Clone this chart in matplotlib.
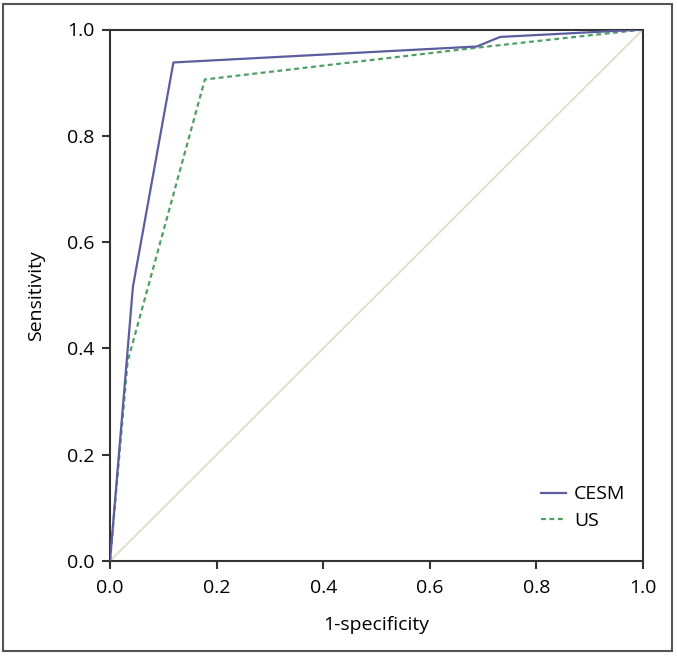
import matplotlib.pyplot as plt
from matplotlib.patches import Rectangle

plt.rcParams['font.family'] = ['Open Sans', 'DejaVu Sans']

# ROC points
cesm_fpr = [0.0, 0.043, 0.119, 0.688, 0.732, 1.0]
cesm_tpr = [0.0, 0.516, 0.938, 0.968, 0.986, 1.0]
us_fpr = [0.0, 0.033, 0.178, 0.69, 1.0]
us_tpr = [0.0, 0.375, 0.906, 0.966, 1.0]
ticks = [0.0, 0.2, 0.4, 0.6, 0.8, 1.0]

fig = plt.figure(figsize=(6.77, 6.56), dpi=100)
ax = fig.add_axes([110 / 677, 1 - 561 / 656, 533 / 677, 531.5 / 656])

ax.plot([0, 1], [0, 1], color='#dcdcc4', lw=1.2, zorder=1)
ax.plot(us_fpr, us_tpr, color='#4f9f63', lw=1.6, ls=(0, (2.2, 1.6)), label='US', zorder=2)
ax.plot(cesm_fpr, cesm_tpr, color='#5a5e9e', lw=1.6, label='CESM', zorder=3)

ax.set_xlim(0, 1)
ax.set_ylim(0, 1)
ax.set_xticks(ticks)
ax.set_yticks(ticks)
ax.set_xticklabels(['%.1f' % t for t in ticks])
ax.set_yticklabels(['%.1f' % t for t in ticks])
ax.tick_params(direction='out', length=6, width=1.5, color='#333333', labelsize=14, pad=5)
ax.tick_params(axis='x', pad=7)
for s in ax.spines.values():
    s.set_linewidth(1.5)
    s.set_color('#333333')

ax.set_xlabel('1-specificity', fontsize=14, labelpad=14)
ax.set_ylabel('Sensitivity', fontsize=14, labelpad=16)

h, l = ax.get_legend_handles_labels()
ax.legend(h[::-1], l[::-1], loc='lower right', frameon=False, fontsize=14,
          handlelength=1.3, handletextpad=0.4, labelspacing=0.45,
          bbox_to_anchor=(1.0, 0.025))

fig.patches.append(Rectangle((3 / 677, 5 / 656), 669 / 677, 647 / 656,
                             transform=fig.transFigure, fill=False,
                             edgecolor='#555555', lw=1.5))

fig.savefig('out.png', dpi=100)
